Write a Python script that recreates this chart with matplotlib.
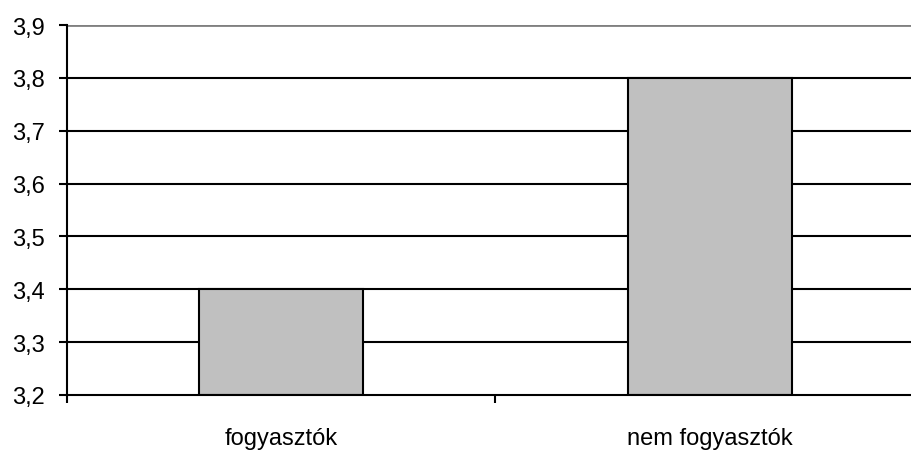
import matplotlib
matplotlib.use("Agg")
import matplotlib.pyplot as plt
from matplotlib.ticker import FixedLocator, FuncFormatter

categories = ["fogyasztók", "nem fogyasztók"]
values = [3.4, 3.8]
yticks = [3.2, 3.3, 3.4, 3.5, 3.6, 3.7, 3.8, 3.9]

plt.rcParams['font.family'] = ['Liberation Sans', 'DejaVu Sans']

fig = plt.figure(figsize=(9.12, 4.52), dpi=100)
ax = fig.add_axes([67/912, 1-396/452, (924-67)/912, (396-26)/452])

ymin, ymax = 3.2, 3.9
ax.set_ylim(ymin, ymax)
ax.set_xlim(-0.5, 1.5)

for y in yticks[1:-1]:
    ax.axhline(y, color='black', lw=1.5, zorder=1)
ax.axhline(yticks[-1], color='#808080', lw=2, zorder=1)

x = list(range(len(categories)))
ax.bar(x, [v - ymin for v in values], bottom=ymin, width=0.383,
       color='#C0C0C0', edgecolor='black', linewidth=1.5, zorder=2)

ax.yaxis.set_major_locator(FixedLocator(yticks))
ax.yaxis.set_major_formatter(FuncFormatter(lambda v, p: f"{v:.1f}".replace('.', ',')))
ax.tick_params(axis='y', direction='out', length=6, width=1.5, labelsize=17, pad=10)

ax.set_xticks(x)
ax.set_xticklabels(categories)
ax.set_xticks([-0.5, 0.5, 1.5], minor=True)
ax.tick_params(axis='x', which='major', length=0, labelsize=17, pad=23)
ax.tick_params(axis='x', which='minor', direction='out', length=6, width=1.5)

for s in ['top', 'right']:
    ax.spines[s].set_visible(False)
ax.spines['left'].set_linewidth(1.5)
ax.spines['bottom'].set_linewidth(1.5)
ax.spines['left'].set_zorder(3)
ax.spines['bottom'].set_zorder(3)

fig.savefig("out.png", dpi=100)
